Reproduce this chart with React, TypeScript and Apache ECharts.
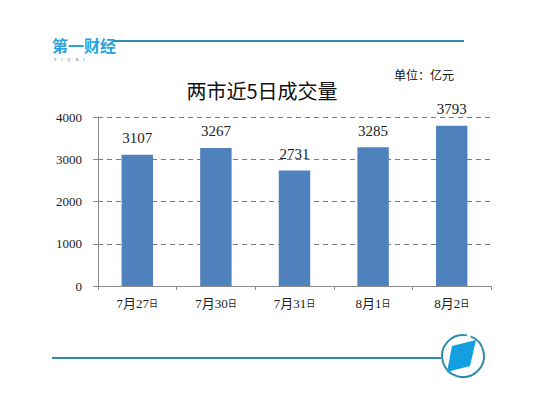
import React, { useEffect, useRef } from "react";
import * as echarts from "echarts";

const categories = ["7月27", "7月30", "7月31", "8月1", "8月2"];
const volumes = [3107, 3267, 2731, 3285, 3793];
const yTicks = [0, 1000, 2000, 3000, 4000];

export default function App() {
  const ref = useRef<HTMLDivElement>(null);
  useEffect(() => {
    if (!ref.current) return;
    const chart = echarts.init(ref.current, null, { renderer: "svg" });
    const serif = "'Liberation Serif', 'DejaVu Serif', serif";
    chart.setOption({
      animation: false,
      backgroundColor: "#ffffff",
      grid: { left: 98, right: 60, top: 117, bottom: 112, containLabel: false },
      xAxis: {
        type: "category",
        data: categories,
        axisLine: { lineStyle: { color: "#8c8c8c", width: 1 } },
        axisTick: { show: true, length: 4, alignWithLabel: false, interval: 0, lineStyle: { color: "#8c8c8c" } },
        axisLabel: {
          interval: 0,
          margin: 11,
          formatter: (v: string) => `{a|${v}}{b|日}`,
          rich: {
            a: { fontFamily: serif + ", 'Noto Sans CJK SC'", fontSize: 13, color: "#222" },
            b: { fontFamily: "'Noto Sans CJK SC'", fontSize: 9, color: "#222" },
          },
        },
      },
      yAxis: {
        type: "value",
        min: yTicks[0],
        max: yTicks[yTicks.length - 1],
        interval: 1000,
        axisLine: { show: true, lineStyle: { color: "#8c8c8c", width: 1 } },
        axisTick: { show: true, length: 5, lineStyle: { color: "#8c8c8c" } },
        axisLabel: {
          fontFamily: serif,
          fontSize: 13,
          color: "#222",
          margin: 16,
          formatter: (v: number) => String(v),
        },
        splitLine: { show: true, lineStyle: { color: "#7a7a7a", type: [5, 4], width: 1 } },
      },
      series: [
        {
          type: "bar",
          data: volumes,
          barWidth: "40%",
          itemStyle: { color: "#4f81bd" },
          label: {
            show: true,
            position: "top",
            distance: 9,
            fontFamily: serif,
            fontSize: 15,
            color: "#222",
          },
        },
      ],
      graphic: [
        {
          type: "line",
          shape: { x1: 112, y1: 41, x2: 464, y2: 41 },
          style: { stroke: "#2f8cab", lineWidth: 2 },
        },
        {
          type: "text",
          left: 52,
          top: 37,
          style: {
            text: "第一财经",
            font: "bold 16px 'Noto Sans CJK SC'",
            fill: "#2aa3dc",
          },
        },
        {
          type: "text",
          left: 54,
          top: 57,
          style: {
            text: "Y    I    C    A    I",
            font: "4px 'DejaVu Sans'",
            fill: "#555",
          },
        },
        {
          type: "text",
          x: 262,
          y: 90,
          style: {
            text: "两市近5日成交量",
            font: "20px 'Noto Sans CJK SC'",
            fill: "#111",
            align: "center",
            verticalAlign: "middle",
          },
        },
        {
          type: "text",
          x: 394,
          y: 74,
          style: {
            text: "单位：亿元",
            font: "12px 'Noto Sans CJK SC'",
            fill: "#111",
            verticalAlign: "middle",
          },
        },
        {
          type: "line",
          shape: { x1: 52, y1: 358, x2: 441, y2: 358 },
          style: { stroke: "#2f8cab", lineWidth: 2 },
        },
        {
          type: "arc",
          shape: { cx: 463, cy: 356, r: 21, startAngle: -1.2, endAngle: 4.9 },
          style: { stroke: "#2f8cab", lineWidth: 2, fill: "none" },
        },
        {
          type: "polygon",
          shape: { points: [[452, 346], [476, 340], [470, 366], [447, 372]] },
          style: { fill: "#14a0e0" },
        },
      ],
    });
    return () => chart.dispose();
  }, []);
  return <div ref={ref} style={{ width: 551, height: 398, margin: -8 }} />;
}
